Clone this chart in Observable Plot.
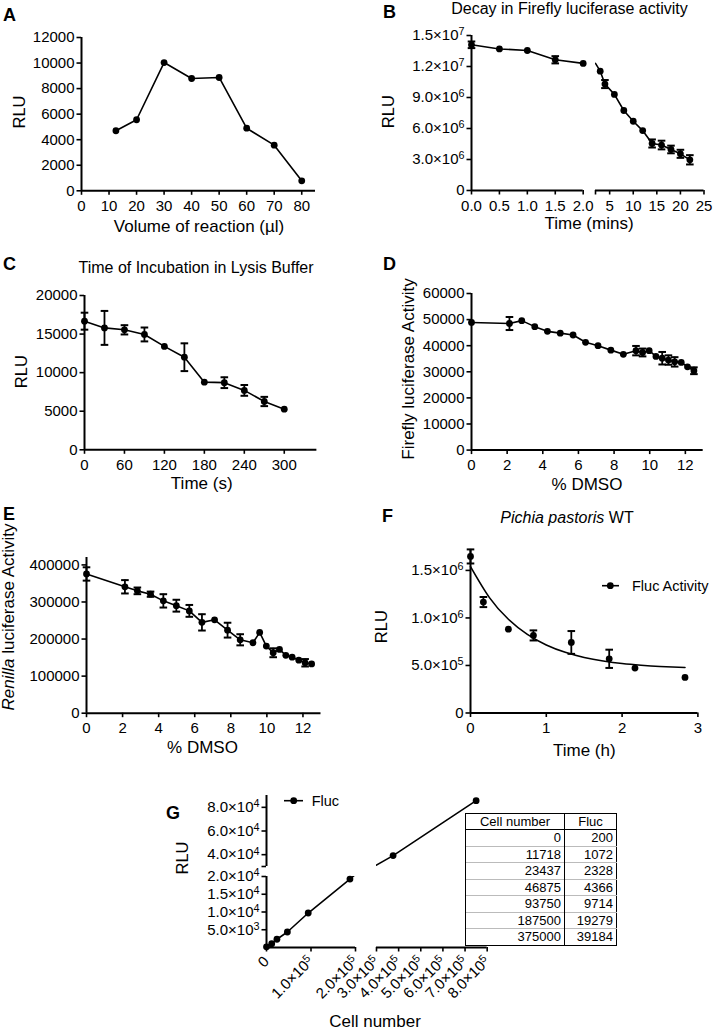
<!DOCTYPE html>
<html><head><meta charset="utf-8">
<script src="https://cdn.jsdelivr.net/npm/d3@7"></script>
<script src="https://cdn.jsdelivr.net/npm/@observablehq/plot@0.6"></script>
<style>
body{margin:0;background:#fff;}
#fig{position:relative;width:714px;height:1030px;overflow:hidden;font-family:"Liberation Sans",Arial,Helvetica,sans-serif;color:#000;background:#fff;}
.panel{position:absolute;}
#overlay{position:absolute;left:0;top:0;pointer-events:none;}
table.fl{position:absolute;border-collapse:collapse;font-size:13px;border:1.5px solid #000;font-family:"Liberation Sans",Arial,sans-serif;background:#fff;}
table.fl td,table.fl th{height:15.5px;padding:0 3px;line-height:14px;text-align:right;border-left:1.5px solid #000;border-top:1px solid #bbb;font-weight:normal;white-space:nowrap;}
table.fl th{text-align:center;border-bottom:1.5px solid #000;border-top:none;height:15.7px;}
</style></head><body><div id="fig"></div>
<script>
// ---------------- data ----------------
// A
const volA = [12.5, 20, 30, 40, 50, 60, 70, 80];
const rluA = [4700, 5560, 10040, 8790, 8870, 4900, 3570, 780];
// B
const timeB = [0, 0.5, 1, 1.5, 2, 3, 4, 6, 8, 10, 12, 14, 16, 18, 20, 22];
const rluB = [14.1e6, 13.7e6, 13.55e6, 12.65e6, 12.3e6, 11.55e6, 10.3e6, 9.3e6, 7.74e6, 6.7e6, 5.8e6, 4.55e6, 4.4e6, 3.97e6, 3.55e6, 2.97e6];
const errB = [0.32e6, 0, 0, 0.35e6, 0, 0, 0.39e6, 0, 0, 0, 0, 0.39e6, 0.42e6, 0.37e6, 0.39e6, 0.45e6];
// C
const timeC = [0, 30, 60, 90, 120, 150, 180, 210, 240, 270, 300];
const rluC = [16670, 15800, 15550, 14950, 13400, 12000, 8770, 8700, 7700, 6260, 5270];
const errC = [1100, 2200, 600, 900, 0, 1800, 0, 700, 700, 600, 0];
// D & E
const dmso = [0, 2.13, 2.82, 3.55, 4.26, 4.98, 5.7, 6.4, 7.1, 7.82, 8.52, 9.23, 9.6, 9.97, 10.35, 10.7, 11.05, 11.4, 11.77, 12.12, 12.48];
const flucD = [48900, 48500, 49600, 47300, 45500, 44800, 44100, 41300, 40000, 38300, 36700, 38100, 37400, 38100, 35900, 35200, 34500, 33800, 33600, 31900, 30400];
const errD = [0, 2500, 0, 0, 0, 0, 0, 0, 0, 0, 0, 1800, 1500, 0, 0, 2400, 1800, 1800, 0, 0, 1300];
const renE = [375600, 341000, 330000, 321000, 303000, 290000, 276000, 245000, 252000, 224000, 198000, 190000, 218000, 181000, 163000, 172000, 156000, 151000, 143000, 136000, 133000];
const errE = [18000, 18000, 9000, 7000, 18000, 16000, 16000, 22000, 0, 20000, 15000, 0, 0, 0, 12000, 0, 0, 0, 0, 10000, 0];
// F
const timeF = [0, 0.17, 0.5, 0.83, 1.33, 1.83, 2.17, 2.83];
const rluF = [1.647e6, 1.167e6, 0.882e6, 0.816e6, 0.742e6, 0.57e6, 0.472e6, 0.374e6];
const errF = [0.074e6, 0.053e6, 0, 0.053e6, 0.12e6, 0.096e6, 0, 0];
const fitTimeF = [0, 0.25, 0.5, 0.75, 1, 1.25, 1.5, 1.75, 2, 2.25, 2.5, 2.83];
const fitRluF = [1.54e6, 1.214e6, 0.986e6, 0.827e6, 0.716e6, 0.638e6, 0.584e6, 0.547e6, 0.52e6, 0.502e6, 0.489e6, 0.478e6];
// G
const cellNumbers = [0, 11718, 23437, 46875, 93750, 187500, 375000, 750000];
const flucG = [200, 1072, 2328, 4366, 9714, 19279, 39184, 85600];
const tableRows = 7;

// ---------------- helpers ----------------
const FONT = '"Liberation Sans", Arial, Helvetica, sans-serif';
const fig = document.getElementById("fig");
const FS = 15;
function sci(v){ if (v === 0) return "0"; const e = Math.floor(Math.log10(v) + 1e-9); return (v / 10 ** e).toFixed(1) + "×10^" + e; }
const plain = d => String(d);
const capSymbol = { draw(ctx, size){ const r = Math.sqrt(size / Math.PI); ctx.moveTo(-r, 0); ctx.lineTo(r, 0); } };
function series(xs, ys){ return xs.map((x, i) => ({x, y: ys[i]})); }
function ax(ticks, fmt, extra = {}){ return Plot.axisX({ticks, tickFormat: fmt, tickSize: 4.5, tickPadding: 5, strokeWidth: 1.6, label: null, fontSize: FS, ...extra}); }
function ay(ticks, fmt, extra = {}){ return Plot.axisY({ticks, tickFormat: fmt, tickSize: 4.5, tickPadding: 2.5, strokeWidth: 1.6, label: null, fontSize: FS, ...extra}); }
function errMarks(xs, ys, es, keep = () => true){
  const d = xs.map((x, i) => ({x, y: ys[i], e: es[i]})).filter(d => d.e > 0 && keep(d));
  return [
    Plot.ruleX(d, {x: "x", y1: d => d.y - d.e, y2: d => d.y + d.e, strokeWidth: 1.8}),
    Plot.dot(d, {x: "x", y: d => d.y - d.e, symbol: capSymbol, r: 3.8, stroke: "black", strokeWidth: 2, fill: "none"}),
    Plot.dot(d, {x: "x", y: d => d.y + d.e, symbol: capSymbol, r: 3.8, stroke: "black", strokeWidth: 2, fill: "none"})
  ];
}
function dots(d){ return Plot.dot(d, {x: "x", y: "y", r: 3.4, fill: "black", stroke: "none"}); }
function line(d, extra = {}){ return Plot.line(d, {x: "x", y: "y", strokeWidth: 1.6, stroke: "black", ...extra}); }
function supers(svg){
  d3.select(svg).selectAll("text").each(function(){
    const t = this.textContent;
    if (!t.includes("^")) return;
    const [b, e] = t.split("^");
    const s = d3.select(this); s.text(null);
    s.append("tspan").text(b);
    s.append("tspan").attr("dy", "-0.45em").attr("font-size", "0.72em").text(e);
  });
}
const PSTYLE = `background:transparent;overflow:visible;max-width:none;font-family:${FONT};font-size:${FS}px;color:black;`;
function panel(frame, opts){
  const ml = 95, mr = 40, mt = 20, mb = 75;
  const w = frame.r - frame.l, h = frame.b - frame.t;
  const svg = Plot.plot({
    width: w + ml + mr, height: h + mt + mb,
    marginLeft: ml, marginRight: mr, marginTop: mt, marginBottom: mb,
    style: PSTYLE,
    ...opts
  });
  supers(svg);
  const div = document.createElement("div");
  div.className = "panel";
  div.style.left = (frame.l - ml) + "px";
  div.style.top = (frame.t - mt) + "px";
  div.style.width = (w + ml + mr) + "px";
  div.appendChild(svg);
  fig.appendChild(div);
}

// ---------------- A ----------------
const dA = series(volA, rluA);
panel({l: 81, r: 315, t: 36.7, b: 190}, {
  x: {domain: [0, 85], axis: null}, y: {domain: [0, 12000], axis: null},
  marks: [
    ax(d3.range(0, 81, 10), plain), ay(d3.range(0, 12001, 2000), plain),
    Plot.ruleX([0], {strokeWidth: 2}), Plot.ruleY([0], {strokeWidth: 2}),
    line(dA), dots(dA)
  ]
});

// ---------------- B ----------------
const dB = series(timeB, rluB);
panel({l: 471.3, r: 583, t: 35, b: 190}, {
  x: {domain: [0, 2], axis: null}, y: {domain: [0, 1.5e7], axis: null},
  marks: [
    ax([0, 0.5, 1, 1.5, 2], d => d.toFixed(1)), ay([0, 3e6, 6e6, 9e6, 1.2e7, 1.5e7], sci),
    Plot.ruleX([0], {strokeWidth: 2}), Plot.ruleY([0], {strokeWidth: 2}),
    line(dB.filter(d => d.x <= 2)),
    ...errMarks(timeB, rluB, errB, d => d.x <= 2),
    dots(dB.filter(d => d.x <= 2))
  ]
});
panel({l: 595.2, r: 703.7, t: 35, b: 190}, {
  x: {domain: [2, 25], axis: null}, y: {domain: [0, 1.5e7], axis: null},
  marks: [
    ax([2, 5, 10, 15, 20, 25], d => d === 2 ? "" : String(d)),
    Plot.ruleY([0], {strokeWidth: 2}),
    line(dB.filter(d => d.x >= 2), {clip: true}),
    ...errMarks(timeB, rluB, errB, d => d.x > 2),
    dots(dB.filter(d => d.x > 2))
  ]
});

// ---------------- C ----------------
const dC = series(timeC, rluC);
panel({l: 84.3, r: 316.7, t: 295, b: 449.3}, {
  x: {domain: [0, 349], axis: null}, y: {domain: [0, 20000], axis: null},
  marks: [
    ax(d3.range(0, 301, 60), plain), ay(d3.range(0, 20001, 5000), plain),
    Plot.ruleX([0], {strokeWidth: 2}), Plot.ruleY([0], {strokeWidth: 2}),
    line(dC), ...errMarks(timeC, rluC, errC), dots(dC)
  ]
});

// ---------------- D ----------------
const dD = series(dmso, flucD);
panel({l: 471.3, r: 703, t: 292.7, b: 449.3}, {
  x: {domain: [0, 13], axis: null}, y: {domain: [0, 60000], axis: null},
  marks: [
    ax(d3.range(0, 13, 2), plain), ay(d3.range(0, 60001, 10000), plain),
    Plot.ruleX([0], {strokeWidth: 2}), Plot.ruleY([0], {strokeWidth: 2}),
    line(dD), ...errMarks(dmso, flucD, errD), dots(dD)
  ]
});

// ---------------- E ----------------
const dE = series(dmso, renE);
panel({l: 85.5, r: 320, t: 556.6, b: 712.3}, {
  x: {domain: [0, 13], axis: null}, y: {domain: [0, 420000], axis: null},
  marks: [
    ax(d3.range(0, 13, 2), plain), ay(d3.range(0, 400001, 100000), plain),
    Plot.ruleX([0], {strokeWidth: 2}), Plot.ruleY([0], {strokeWidth: 2}),
    line(dE), ...errMarks(dmso, renE, errE), dots(dE)
  ]
});

// ---------------- F ----------------
const dF = series(timeF, rluF);
const fitF = series(fitTimeF, fitRluF);
panel({l: 470.3, r: 697.7, t: 548.5, b: 712}, {
  x: {domain: [0, 3], axis: null}, y: {domain: [0, 1.72e6], axis: null},
  marks: [
    ax([0, 1, 2, 3], plain), ay([0, 5e5, 1e6, 1.5e6], sci),
    Plot.ruleX([0], {strokeWidth: 2}), Plot.ruleY([0], {strokeWidth: 2}),
    line(fitF, {curve: "natural"}), ...errMarks(timeF, rluF, errF), dots(dF)
  ]
});

// ---------------- G (broken axes) ----------------
const dG = series(cellNumbers, flucG);
function axG(ticks){ return ax(ticks, sci, {tickRotate: -45, textAnchor: "end", lineAnchor: "middle", tickPadding: 7}); }
// lower-left
panel({l: 266, r: 355, t: 876, b: 947}, {
  x: {domain: [0, 2e5], axis: null}, y: {domain: [0, 2e4], axis: null},
  marks: [
    axG([0, 1e5, 2e5]), ay([5000, 10000, 15000, 20000], sci),
    Plot.ruleX([0], {strokeWidth: 2}), Plot.ruleY([0], {strokeWidth: 2}),
    line(dG, {clip: true}), dots(dG.filter(d => d.x <= 2e5 && d.y <= 2e4))
  ]
});
// upper-left
panel({l: 266, r: 355, t: 795, b: 866}, {
  x: {domain: [0, 2e5], axis: null}, y: {domain: [3e4, 9e4], axis: null},
  marks: [
    ay([3e4, 4e4, 6e4, 8e4], d => d === 3e4 ? "" : sci(d)),
    Plot.ruleX([0], {strokeWidth: 2}),
    line(dG, {clip: true})
  ]
});
// upper-right
panel({l: 376, r: 486.7, t: 795, b: 866}, {
  x: {domain: [3e5, 8e5], axis: null}, y: {domain: [3e4, 9e4], axis: null},
  marks: [
    line(dG, {clip: true}), dots(dG.filter(d => d.x >= 3e5 && d.y >= 3e4))
  ]
});
// lower-right
panel({l: 376, r: 486.7, t: 876, b: 947}, {
  x: {domain: [3e5, 8e5], axis: null}, y: {domain: [0, 2e4], axis: null},
  marks: [
    axG(d3.range(3e5, 8e5 + 1, 1e5)),
    Plot.ruleY([0], {strokeWidth: 2}),
    line(dG, {clip: true})
  ]
});

// table for G
const tbl = document.createElement("table");
tbl.className = "fl";
tbl.style.left = "465px"; tbl.style.top = "812.7px";
let html = '<colgroup><col style="width:99px"><col style="width:52px"></colgroup><tr><th>Cell number</th><th>Fluc</th></tr>';
for (let i = 0; i < tableRows; i++) html += `<tr><td>${cellNumbers[i]}</td><td>${flucG[i]}</td></tr>`;
tbl.innerHTML = html;
fig.appendChild(tbl);

// ---------------- text overlay ----------------
const ov = d3.select(fig).append("svg").attr("id", "overlay").attr("width", 714).attr("height", 1030).style("font-family", FONT);
function label(x, y, parts, {size = 17, anchor = "middle", weight = "normal", rot = 0} = {}){
  const t = ov.append("text").attr("transform", `translate(${x},${y})` + (rot ? ` rotate(${rot})` : ""))
    .attr("text-anchor", anchor).attr("font-size", size).attr("font-weight", weight).attr("fill", "#000");
  (Array.isArray(parts) ? parts : [[parts]]).forEach(([s, it]) => t.append("tspan").attr("font-style", it ? "italic" : null).text(s));
}
// panel letters
label(3, 20.7, "A", {size: 18, anchor: "start", weight: "bold"});
label(383, 18.3, "B", {size: 18, anchor: "start", weight: "bold"});
label(3, 269.5, "C", {size: 18, anchor: "start", weight: "bold"});
label(383, 269.5, "D", {size: 18, anchor: "start", weight: "bold"});
label(3, 520, "E", {size: 18, anchor: "start", weight: "bold"});
label(382, 521.5, "F", {size: 18, anchor: "start", weight: "bold"});
label(166, 818.5, "G", {size: 18, anchor: "start", weight: "bold"});
// titles
label(569.5, 14, "Decay in Firefly luciferase activity", {size: 16});
label(196, 273, "Time of Incubation in Lysis Buffer", {size: 16});
label(567, 522.5, [["Pichia pastoris", true], [" WT"]], {size: 16});
// axis labels
label(25, 112, "RLU", {size: 16.5, rot: -90});
label(199, 232, "Volume of reaction (µl)");
label(393.5, 111.7, "RLU", {size: 16.5, rot: -90});
label(589, 229, "Time (mins)");
label(26.5, 371.7, "RLU", {size: 16.5, rot: -90});
label(201.7, 489, "Time (s)");
label(414, 369, "Firefly luciferase Activity", {rot: -90});
label(587, 490, "% DMSO");
label(14, 617, [["Renilla", true], [" luciferase Activity"]], {rot: -90});
label(202.5, 753, "% DMSO");
label(387, 626.7, "RLU", {size: 16.5, rot: -90});
label(584.3, 756, "Time (h)");
label(188, 858, "RLU", {size: 16.5, rot: -90});
label(375, 1027, "Cell number");
// legends
ov.append("line").attr("x1", 602).attr("x2", 619).attr("y1", 585.7).attr("y2", 585.7).attr("stroke", "#000").attr("stroke-width", 1.6);
ov.append("circle").attr("cx", 610.3).attr("cy", 585.7).attr("r", 3.4).attr("fill", "#000");
label(632, 591, "Fluc Activity", {size: 14.5, anchor: "start"});
ov.append("line").attr("x1", 284).attr("x2", 303).attr("y1", 800.7).attr("y2", 800.7).attr("stroke", "#000").attr("stroke-width", 1.6);
ov.append("circle").attr("cx", 293.7).attr("cy", 800.7).attr("r", 3.4).attr("fill", "#000");
label(311.7, 805.5, "Fluc", {size: 14.5, anchor: "start"});
</script></body></html>
